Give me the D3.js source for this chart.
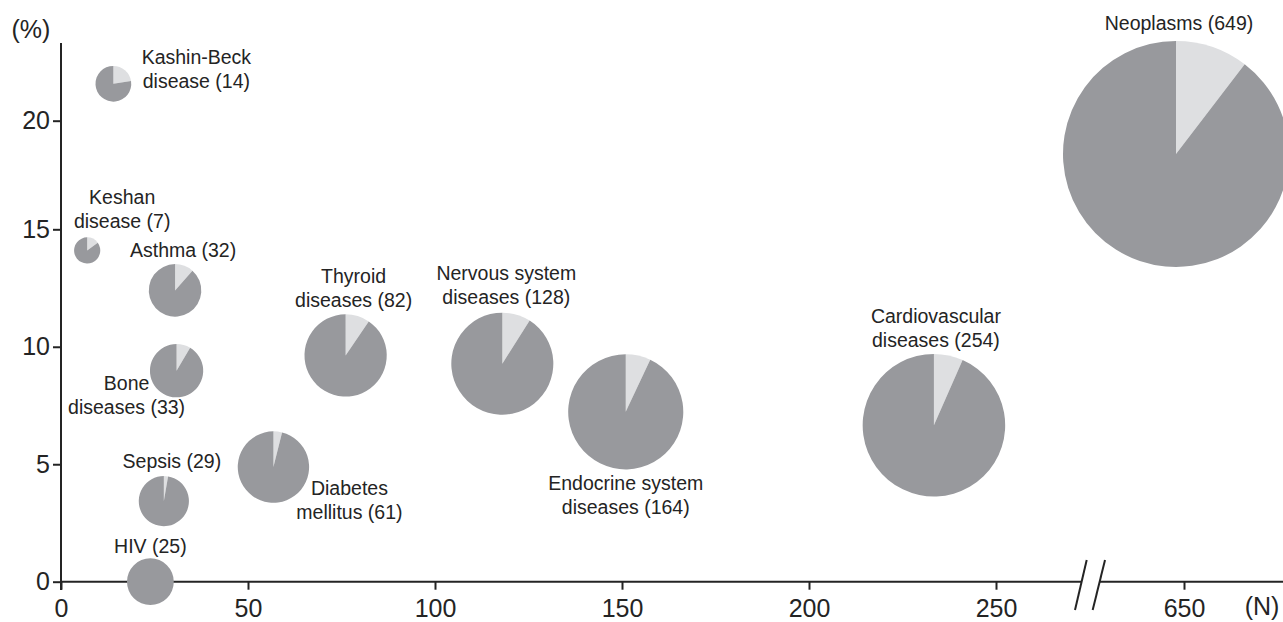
<!DOCTYPE html>
<html>
<head>
<meta charset="utf-8">
<script src="https://cdn.jsdelivr.net/npm/d3@7/dist/d3.min.js"></script>
<style>
  html, body { margin: 0; padding: 0; background: #ffffff; }
  svg { display: block; font-family: "Liberation Sans", Arial, Helvetica, sans-serif; }
</style>
</head>
<body>
<svg id="chart" width="1283" height="622"></svg>
<script>
// ---------------- data ----------------
const categories = ["Kashin-Beck disease", "Keshan disease", "Asthma", "Bone diseases", "Sepsis", "HIV",
  "Diabetes mellitus", "Thyroid diseases", "Nervous system diseases", "Endocrine system diseases",
  "Cardiovascular diseases", "Neoplasms"];
const labelLines = [
  ["Kashin-Beck", "disease (14)"],
  ["Keshan", "disease (7)"],
  ["Asthma (32)"],
  ["Bone", "diseases (33)"],
  ["Sepsis (29)"],
  ["HIV (25)"],
  ["Diabetes", "mellitus (61)"],
  ["Thyroid", "diseases (82)"],
  ["Nervous system", "diseases (128)"],
  ["Endocrine system", "diseases (164)"],
  ["Cardiovascular", "diseases (254)"],
  ["Neoplasms (649)"]
];
const counts   = [14, 7, 32, 33, 29, 25, 61, 82, 128, 164, 254, 649];          // N (pie size)
const xValues  = [14.0, 7.0, 30.5, 30.9, 27.5, 23.9, 56.8, 76.1, 118.0, 151.0, 233.4, 649]; // x position
const yValues  = [21.7, 14.1, 12.4, 8.98, 3.43, 0.0, 4.88, 9.63, 9.28, 7.23, 6.66, 18.47]; // (%)
const lightShare = [0.225, 0.15, 0.115, 0.085, 0.027, 0.0, 0.039, 0.095, 0.09, 0.07, 0.066, 0.104];
const xTicksLeft = [0, 50, 100, 150, 200, 250];
const xTicksRight = [650];
const yTicks = [0, 5, 10, 15, 20];

// ---------------- layout (label offsets from pie centre, px) ----------------
const labelOffsets = [
  [83, -20], [35, -46], [8, -33], [-50, 19], [8, -33], [0, -29],
  [76, 28], [8, -72], [4, -84], [0, 78], [2, -102], [3, -124]
];

// ---------------- scales ----------------
const svg = d3.select("#chart");
const textColor = "#242424";
const darkGrey = "#98999d";
const lightGrey = "#dedfe1";

const xLeft = d3.scaleLinear().domain([0, 250]).range([61, 996]);
const xRight = d3.scaleLinear().domain([640, 660]).range([1104, 1264]);
const xPos = v => v > 400 ? xRight(v) : xLeft(v);
const y = d3.scaleLinear().domain([0, 15, 20]).range([581.7, 229.3, 120.7]);
const r = d3.scaleSqrt().domain([0, 649]).range([1.5, 113]);

// ---------------- axes ----------------
const axisG = svg.append("g");
axisG.append("line").attr("x1", 61).attr("x2", 61).attr("y1", 43).attr("y2", 590)
  .attr("stroke", textColor).attr("stroke-width", 2);
axisG.append("line").attr("x1", 60).attr("x2", 1081.6).attr("y1", y(0)).attr("y2", y(0))
  .attr("stroke", textColor).attr("stroke-width", 2);
axisG.append("line").attr("x1", 1099.7).attr("x2", 1283).attr("y1", y(0)).attr("y2", y(0))
  .attr("stroke", textColor).attr("stroke-width", 2);
[[1075, 1086.7], [1092.7, 1105]].forEach(([xa, xb]) => {
  axisG.append("line").attr("x1", xa).attr("y1", 610).attr("x2", xb).attr("y2", 560)
    .attr("stroke", textColor).attr("stroke-width", 2);
});

function styleAxis(g) {
  g.select(".domain").remove();
  g.selectAll(".tick line").attr("stroke", textColor).attr("stroke-width", 2);
  g.selectAll(".tick text").attr("fill", textColor).style("font-size", "25px");
}

svg.append("g").attr("transform", `translate(61,0)`)
  .call(d3.axisLeft(y).tickValues(yTicks).tickSize(8).tickPadding(3).tickFormat(d3.format("d")))
  .call(styleAxis);

svg.append("g").attr("transform", `translate(0,${y(0)})`)
  .call(d3.axisBottom(xLeft).tickValues(xTicksLeft).tickSize(8).tickPadding(9.5).tickFormat(d3.format("d")))
  .call(styleAxis);
svg.append("g").attr("transform", `translate(0,${y(0)})`)
  .call(d3.axisBottom(xRight).tickValues(xTicksRight).tickSize(8).tickPadding(9.5).tickFormat(d3.format("d")))
  .call(styleAxis);

svg.selectAll(".tick text").attr("font-family", null);

svg.append("text").attr("x", 31).attr("y", 37.5).attr("text-anchor", "middle")
  .attr("fill", textColor).style("font-size", "25px").text("(%)");
svg.append("text").attr("x", 1262).attr("y", 615).attr("text-anchor", "middle")
  .attr("fill", textColor).style("font-size", "25px").text("(N)");

// ---------------- pies ----------------
const pie = d3.pie().sort(null).value(d => d);
const data = categories.map((c, i) => ({
  name: c, n: counts[i], x: xValues[i], y: yValues[i], share: lightShare[i],
  lines: labelLines[i], off: labelOffsets[i]
}));

const pieG = svg.append("g");
data.forEach(d => {
  const cx = xPos(d.x), cy = y(d.y), rad = r(d.n);
  const g = pieG.append("g").attr("transform", `translate(${cx},${cy})`);
  const arc = d3.arc().innerRadius(0).outerRadius(rad);
  g.selectAll("path").data(pie([d.share, 1 - d.share])).enter().append("path")
    .attr("d", arc)
    .attr("fill", (p, i) => i === 0 ? lightGrey : darkGrey);
  const t = svg.append("text")
    .attr("x", cx + d.off[0]).attr("y", cy + d.off[1])
    .attr("text-anchor", "middle").attr("fill", textColor)
    .style("font-size", "19.5px");
  d.lines.forEach((line, li) => {
    t.append("tspan").attr("x", cx + d.off[0]).attr("dy", li === 0 ? 0 : 24).text(line);
  });
});
</script>
</body>
</html>
